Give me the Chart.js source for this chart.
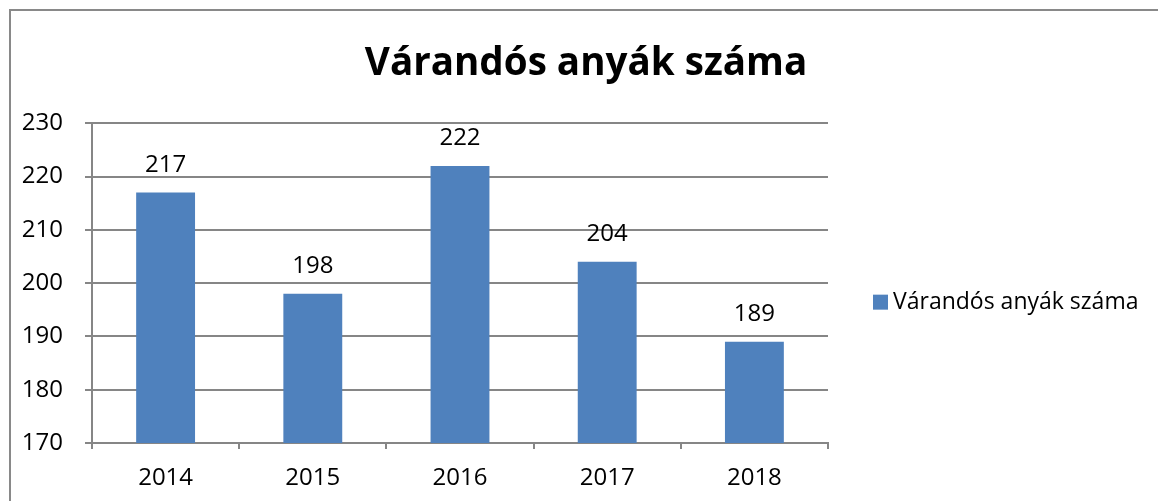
<!DOCTYPE html>
<html>
<head>
<meta charset="utf-8">
<script src="https://cdn.jsdelivr.net/npm/chart.js@4"></script>
<style>
    html, body { margin: 0; padding: 0; background: #fff; overflow: hidden; }
    #frame {
        position: absolute; left: 9px; top: 9px;
        width: 1300px; height: 700px;
        border: 2px solid #898989;
    }
    #wrap { position: absolute; left: 0; top: 0; width: 1158px; height: 501px; }
</style>
</head>
<body>
<div id="frame"></div>
<div id="wrap"><canvas id="chart"></canvas></div>
<script>
const years = ["2014", "2015", "2016", "2017", "2018"];
const mothers = [217, 198, 222, 204, 189];
const yTicks = [170, 180, 190, 200, 210, 220, 230];

const seriesName = "Várandós anyák száma";
const barColor = "#4F81BD";
const gridColor = "#868686";
const fontFamily = "'Open Sans', sans-serif";

// felirat a hasábok fölé
const valueLabels = {
    id: "valueLabels",
    afterDatasetsDraw(chart) {
        const ctx = chart.ctx;
        const meta = chart.getDatasetMeta(0);
        ctx.save();
        ctx.font = "24px " + fontFamily;
        ctx.fillStyle = "#000";
        ctx.textAlign = "center";
        ctx.textBaseline = "alphabetic";
        meta.data.forEach((bar, i) => {
            ctx.fillText(mothers[i], bar.x, bar.y - 21);
        });
        ctx.restore();
    }
};

// jelmagyarázat a rajzterület jobb oldalán (a beépített legend nem fér el)
const sideLegend = {
    id: "sideLegend",
    afterDraw(chart) {
        const ctx = chart.ctx;
        const area = chart.chartArea;
        const x = area.right + 45;
        const y = (area.top + area.bottom) / 2 + 19;
        ctx.save();
        ctx.fillStyle = barColor;
        ctx.fillRect(x, y - 7.5, 15, 15);
        ctx.font = "23px " + fontFamily;
        ctx.fillStyle = "#000";
        ctx.textAlign = "left";
        ctx.textBaseline = "middle";
        ctx.fillText(chart.data.datasets[0].label, x + 20, y);
        ctx.restore();
    }
};

new Chart(document.getElementById("chart"), {
    type: "bar",
    data: {
        labels: years,
        datasets: [{
            label: seriesName,
            data: mothers,
            backgroundColor: barColor,
            borderWidth: 0,
            barPercentage: 0.4,
            categoryPercentage: 1
        }]
    },
    options: {
        responsive: true,
        maintainAspectRatio: false,
        animation: false,
        layout: { padding: { left: 14, right: 0, top: 0, bottom: 0 } },
        scales: {
            x: {
                grid: {
                    drawOnChartArea: false,
                    drawTicks: true,
                    tickLength: 6,
                    color: gridColor,
                    lineWidth: 2
                },
                border: { color: gridColor, width: 2 },
                ticks: {
                    color: "#000",
                    padding: 15,
                    font: { family: fontFamily, size: 24 }
                },
                afterFit(scale) { scale.height = 58; }
            },
            y: {
                min: 170,
                max: 230,
                afterBuildTicks(scale) {
                    scale.ticks = yTicks.map(v => ({ value: v }));
                },
                grid: {
                    color: gridColor,
                    lineWidth: 2,
                    tickLength: 7
                },
                border: { color: gridColor, width: 2 },
                ticks: {
                    color: "#000",
                    padding: 22,
                    font: { family: fontFamily, size: 24 }
                },
                afterFit(scale) { scale.width = 78; }
            },
            // üres jobb oldali tengely: helyet foglal a jelmagyarázatnak
            legendSpace: {
                type: "linear",
                position: "right",
                grid: { display: false },
                border: { display: false },
                ticks: { display: false },
                afterFit(scale) { scale.width = 330; }
            }
        },
        plugins: {
            title: {
                display: true,
                text: seriesName,
                color: "#000",
                font: { family: fontFamily, size: 38.6, weight: "bold" },
                padding: { top: 41, bottom: 36 }
            },
            legend: { display: false },
            tooltip: { enabled: false }
        }
    },
    plugins: [valueLabels, sideLegend]
});
</script>
</body>
</html>
